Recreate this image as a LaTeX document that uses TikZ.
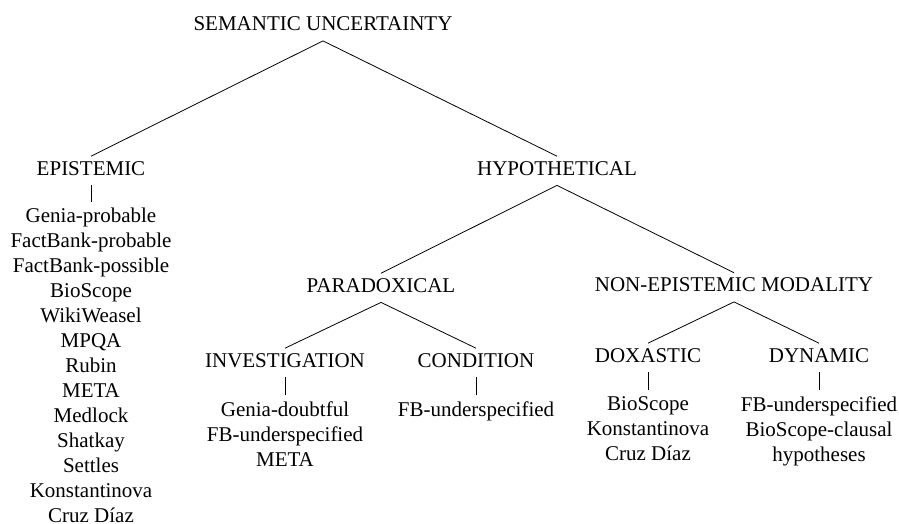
\documentclass[tikz,border=0pt]{standalone}
\usepackage{fontspec}
\setmainfont{Liberation Serif}
\begin{document}
\begin{tikzpicture}[x=0.5pt, y=-0.5pt,
    every node/.style={font=\fontsize{10.5pt}{12.5pt}\selectfont},
    cat/.style={inner sep=2.25pt, text depth=2.75pt, anchor=base},
    corpora/.style={align=center, inner sep=3pt, anchor=north}]
  \useasboundingbox (0,0) rectangle (899,524);

  % categories
  \node[cat] (SU) at (323,30.5) {SEMANTIC UNCERTAINTY};
  \node[cat] (EP) at (91,175) {EPISTEMIC};
  \node[cat] (HY) at (557,175) {HYPOTHETICAL};
  \node[cat] (PA) at (381,292) {PARADOXICAL};
  \node[cat] (NE) at (734,291.5) {NON-EPISTEMIC MODALITY};
  \node[cat] (IN) at (285,367) {INVESTIGATION};
  \node[cat] (CO) at (476,367) {CONDITION};
  \node[cat] (DO) at (648,362) {DOXASTIC};
  \node[cat] (DY) at (819,362) {DYNAMIC};

  % corpora under the leaves
  \node[corpora] (EPc) at (91,202) {Genia-probable\\FactBank-probable\\FactBank-possible\\BioScope\\WikiWeasel\\MPQA\\Rubin\\META\\Medlock\\Shatkay\\Settles\\Konstantinova\\Cruz Díaz};
  \node[corpora] (INc) at (285,395) {Genia-doubtful\\FB-underspecified\\META};
  \node[corpora] (COc) at (476,395) {FB-underspecified};
  \node[corpora] (DOc) at (648,390) {BioScope\\Konstantinova\\Cruz Díaz};
  \node[corpora] (DYc) at (819,390) {FB-underspecified\\BioScope-clausal\\hypotheses};

  \draw (SU.south) -- (EP.north);
  \draw (SU.south) -- (HY.north);
  \draw (HY.south) -- (PA.north);
  \draw (HY.south) -- (NE.north);
  \draw (PA.south) -- (IN.north);
  \draw (PA.south) -- (CO.north);
  \draw (NE.south) -- (DO.north);
  \draw (NE.south) -- (DY.north);

  \draw (EP.south) -- (EPc.north);
  \draw (IN.south) -- (INc.north);
  \draw (CO.south) -- (COc.north);
  \draw (DO.south) -- (DOc.north);
  \draw (DY.south) -- (DYc.north);
\end{tikzpicture}
\end{document}
